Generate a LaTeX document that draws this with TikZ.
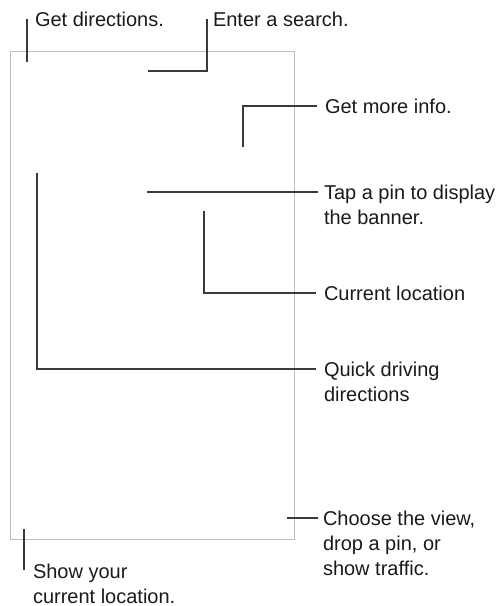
\documentclass[tikz,border=0pt]{standalone}
\usepackage{fontspec}
\setmainfont{Liberation Sans}
\definecolor{leadc}{HTML}{3A3A3A}
\definecolor{framec}{HTML}{BDBDBD}
\definecolor{textc}{HTML}{1A1A1A}
\newcommand{\mylines}[2]{\vtop{\baselineskip=25pt\hbox{#1}\hbox{#2}}}
\newcommand{\mythree}[3]{\vtop{\baselineskip=25pt\hbox{#1}\hbox{#2}\hbox{#3}}}
\begin{document}
\begin{tikzpicture}[x=1pt,y=-1pt,
  lbl/.style={anchor=base west, inner sep=0pt, outer sep=0pt, text=textc, font=\fontsize{20}{25}\selectfont},
  ldr/.style={draw=leadc, line width=1.3pt},
  frame/.style={draw=framec, line width=1pt}]
\useasboundingbox (0,0) rectangle (498,606);
% device frame
\draw[frame] (10,51) rectangle (294,539);
% labels
\node[lbl] (t1) at (35,26) {Get directions.};
\node[lbl] (t2) at (213,26) {Enter a search.};
\node[lbl] (t3) at (325,113) {Get more info.};
\node[lbl] (t4) at (324,199) {\mylines{Tap a pin to display}{the banner.}};
\node[lbl] (t5) at (324,300) {Current location};
\node[lbl] (t6) at (324,376) {\mylines{Quick driving}{directions}};
\node[lbl] (t7) at (323,525) {\mythree{Choose the view,}{drop a pin, or}{show traffic.}};
\node[lbl] (t8) at (33,578) {\mylines{Show your}{current location.}};
% connector coordinates
\coordinate (a1) at (27,19);  \coordinate (b1) at (27,62);
\coordinate (a2) at (207,19); \coordinate (m2) at (207,71); \coordinate (b2) at (148,71);
\coordinate (a3) at (317,106); \coordinate (m3) at (243,106); \coordinate (b3) at (243,147);
\coordinate (a4) at (318,192); \coordinate (b4) at (147,192);
\coordinate (a5) at (316,293); \coordinate (m5) at (204,293); \coordinate (b5) at (204,211);
\coordinate (a6) at (316,369); \coordinate (m6) at (37,369); \coordinate (b6) at (37,173);
\coordinate (a7) at (318,518); \coordinate (b7) at (287,518);
\coordinate (a8) at (24,570); \coordinate (b8) at (24,529);
% connectors
\draw[ldr] (a1) -- (b1);
\draw[ldr] (a2) -- (m2) -- (b2);
\draw[ldr] (a3) -- (m3) -- (b3);
\draw[ldr] (a4) -- (b4);
\draw[ldr] (a5) -- (m5) -- (b5);
\draw[ldr] (a6) -- (m6) -- (b6);
\draw[ldr] (a7) -- (b7);
\draw[ldr] (a8) -- (b8);
\end{tikzpicture}
\end{document}
